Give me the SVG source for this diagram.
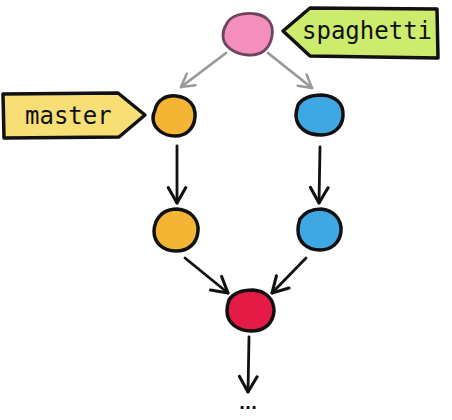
<svg xmlns="http://www.w3.org/2000/svg" width="452" height="420" viewBox="0 0 452 420">
<defs>
<marker id="ah" viewBox="0 0 20 20" refX="17" refY="10" markerWidth="22" markerHeight="22" markerUnits="userSpaceOnUse" orient="auto">
<path d="M3,2 L17,10 L3,18" fill="none" stroke="#111" stroke-width="2.8" stroke-linecap="round" stroke-linejoin="round"/>
</marker>
<marker id="ahg" viewBox="0 0 20 20" refX="17" refY="10" markerWidth="18" markerHeight="18" markerUnits="userSpaceOnUse" orient="auto">
<path d="M3,2 L17,10 L3,18" fill="none" stroke="#999" stroke-width="2.8" stroke-linecap="round" stroke-linejoin="round"/>
</marker>
</defs>
<style>
.node{stroke:#111;stroke-width:3.5;stroke-linejoin:round}
.edge{fill:none;stroke:#111;stroke-width:2.8;stroke-linecap:round}
.gedge{fill:none;stroke:#999;stroke-width:2.8;stroke-linecap:round}
.tag{stroke:#111;stroke-width:3.5;stroke-linejoin:round}
.lbl{font-family:"DejaVu Sans Mono","Liberation Mono",monospace;font-size:24px;fill:#111}
</style>
<g id="connectors">
<path class="gedge" d="M226,53 L181,87" marker-end="url(#ahg)"/>
<path class="gedge" d="M268,53 L312,88" marker-end="url(#ahg)"/>
<path class="edge" d="M177,146 L177,203" marker-end="url(#ah)"/>
<path class="edge" d="M320,147 L319,203" marker-end="url(#ah)"/>
<path class="edge" d="M185,258 L228,293" marker-end="url(#ah)"/>
<path class="edge" d="M306,258 L272,293" marker-end="url(#ah)"/>
<path class="edge" d="M249,337 L248,392" marker-end="url(#ah)"/>
</g>
<g id="n-spaghetti-commit">
<path d="M226,25 C230,15 244,12 256,14 C268,16 274,24 272,36 C270,48 262,56 248,55 C234,54 223,46 223,36 C223,31 224,28 226,25 Z" fill="#f48fbb" stroke="#6e4460" stroke-width="2.8"/>
</g>
<g id="tag-spaghetti">
<path class="tag" d="M283,31 L310,8 L437,9 L438,58 L310,56 Z" fill="#cdec6e"/>
<text class="lbl" x="302" y="39">spaghetti</text>
</g>
<g id="tag-master">
<path class="tag" d="M3,94 L118,93 L145,115 L119,137 L4,138 Z" fill="#f7df76"/>
<text class="lbl" x="25" y="124">master</text>
</g>
<g id="n-master-1">
<path class="node" d="M155,110 C157,100 166,95 176,96 C188,97 196,105 195,117 C194,129 186,136 175,136 C163,136 153,128 153,118 C153,115 154,112 155,110 Z" fill="#f4b434"/>
</g>
<g id="n-spaghetti-1">
<path class="node" d="M298,105 C303,97 312,95 322,95 C335,96 344,103 343,116 C342,128 333,135 321,135 C307,135 297,128 296,116 C296,112 297,108 298,105 Z" fill="#3fa7e1"/>
</g>
<g id="n-master-2">
<path class="node" d="M156,222 C160,213 168,209 177,209 C190,210 199,219 198,231 C197,244 188,251 176,251 C163,251 154,243 154,231 C154,227 155,225 156,222 Z" fill="#f4b434"/>
</g>
<g id="n-spaghetti-2">
<path class="node" d="M300,219 C305,212 313,209 321,209 C333,210 342,219 341,231 C340,243 331,250 320,250 C307,250 298,242 298,230 C298,226 299,222 300,219 Z" fill="#3fa7e1"/>
</g>
<g id="n-merge">
<path class="node" d="M229,300 C234,292 243,290 253,290 C266,291 274,299 274,311 C273,324 264,331 251,331 C238,331 227,323 227,311 C227,306 228,303 229,300 Z" fill="#e31b45"/>
</g>
<text x="248" y="409" text-anchor="middle" font-family="DejaVu Sans, sans-serif" font-weight="bold" font-size="16" fill="#111">...</text>
</svg>
